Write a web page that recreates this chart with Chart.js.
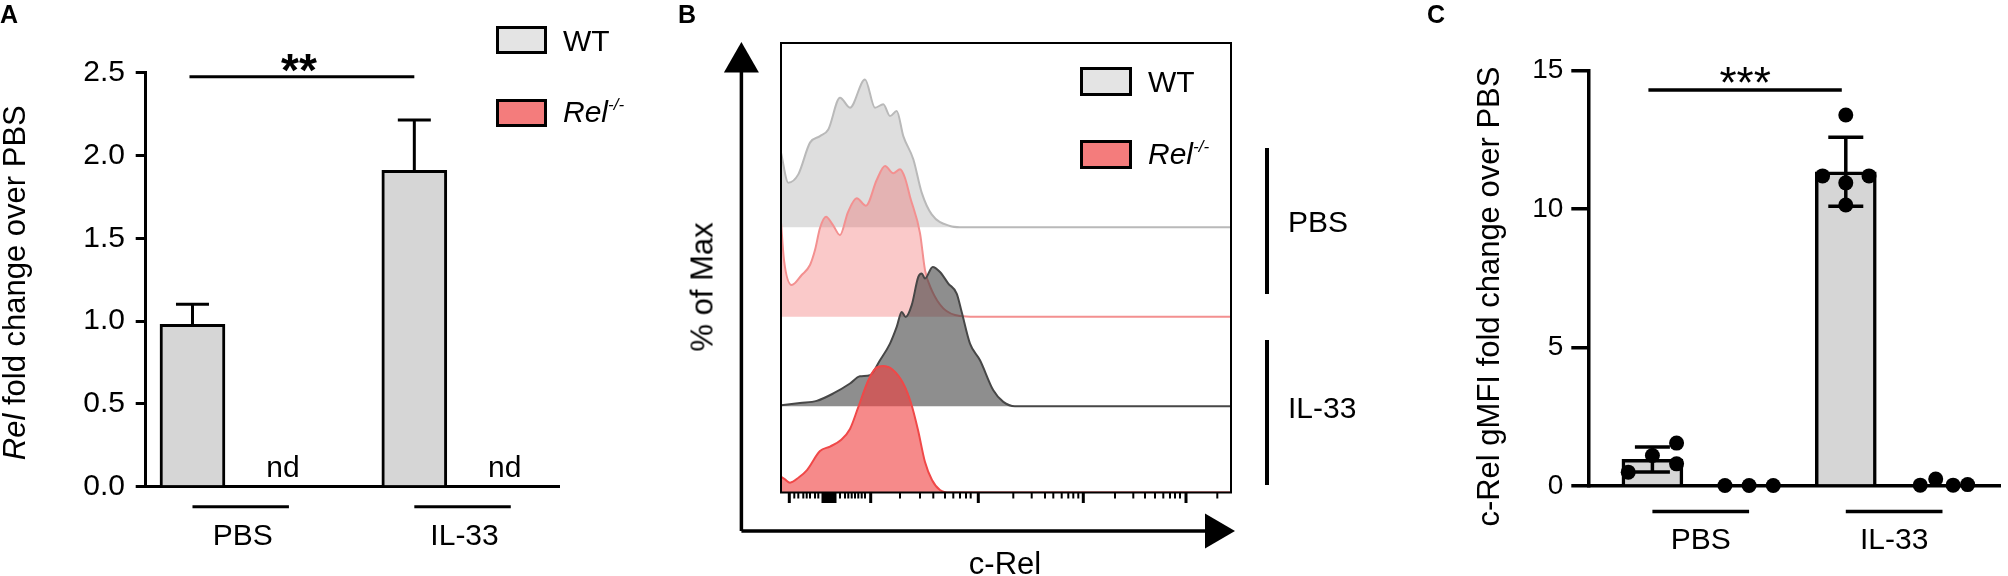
<!DOCTYPE html>
<html>
<head>
<meta charset="utf-8">
<script src="https://cdn.jsdelivr.net/npm/chart.js@4.4.1/dist/chart.umd.min.js"></script>
<style>
  body { margin: 0; width: 2008px; height: 576px; background: #fff; position: relative; overflow: hidden;
         font-family: 'Liberation Sans', Arial, Helvetica, sans-serif; color: #000; }
  canvas { position: absolute; top: 0; }
  .t { position: absolute; white-space: nowrap; font-size: 30px; line-height: 1; }
  .letter { position: absolute; top: 2px; font-weight: bold; font-size: 25px; line-height: 1; }
  .box { position: absolute; box-sizing: border-box; border: 3px solid #000; }
  .vline { position: absolute; width: 3.5px; background: #000; }
  sup { font-size: 17px; vertical-align: 12px; line-height: 0; }
</style>
</head>
<body>
<canvas id="chartA" width="660" height="576" style="left:0px"></canvas>
<canvas id="chartB" width="820" height="576" style="left:600px"></canvas>
<canvas id="chartC" width="588" height="576" style="left:1420px"></canvas>

<div class="letter" style="left:0px">A</div>
<div class="letter" style="left:678px">B</div>
<div class="letter" style="left:1427px">C</div>

<!-- legende A -->
<div class="box" style="left:496px; top:26px; width:51px; height:28px; background:#e4e4e4"></div>
<div class="t" style="left:563px; top:25.7px">WT</div>
<div class="box" style="left:496px; top:99px; width:51px; height:28px; background:#f47c7c"></div>
<div class="t" style="left:563px; top:97.3px"><i>Rel<sup>-/-</sup></i></div>

<!-- legende B -->
<div class="box" style="left:1080px; top:67px; width:52px; height:29px; background:#e4e4e4"></div>
<div class="t" style="left:1148px; top:67px">WT</div>
<div class="box" style="left:1080px; top:140px; width:52px; height:29px; background:#f47c7c"></div>
<div class="t" style="left:1148px; top:138.7px"><i>Rel<sup>-/-</sup></i></div>

<div class="vline" style="left:1265px; top:148px; height:146px"></div>
<div class="t" style="left:1288px; top:207.3px">PBS</div>
<div class="vline" style="left:1265px; top:340px; height:145px"></div>
<div class="t" style="left:1288px; top:393.1px">IL-33</div>

<div class="t" style="left:701.5px; top:286.5px; font-size:31px; transform:translate(-50%,-50%) rotate(-90deg)">% of Max</div>
<div class="t" style="left:1005px; top:547.8px; font-size:31px; transform:translateX(-50%)">c-Rel</div>

<script>
const FONT = "'Liberation Sans', Arial, Helvetica, sans-serif";

// Panel A : Rel mRNA (qPCR)
const groups = ['PBS', 'IL-33'];
const relWtMean = [0.98, 1.91];
const relWtSem = [0.122, 0.304];
const relKoLabel = ['nd', 'nd'];
const relTicks = [0, 0.5, 1.0, 1.5, 2.0, 2.5];

// Panel B : histogrammes c-Rel (x = canal, h = % of Max)
const wtPbsX = [0, 7.3, 17.3, 29, 39, 47.3, 59, 69, 84, 94, 102.3, 109, 115.7, 122.3, 132.3, 140.7, 150.7, 169, 179, 450];
const wtPbsH = [51.4, 30.7, 36.4, 58.3, 62.8, 67.4, 89.3, 82.4, 101.9, 82.4, 84.7, 76.6, 80.1, 62.8, 46.8, 23.8, 8.8, 0.8, 0, 0];
const koPbsX = [0, 3, 10.7, 20.7, 29, 34, 39, 45, 52, 59, 67, 75.7, 85, 95.7, 104, 112.3, 119, 124, 129, 139, 144, 150.7, 162.3, 179, 194, 450];
const koPbsH = [65.3, 39.1, 21.9, 28.8, 35.7, 46, 61.2, 69, 63.2, 56.3, 72.2, 81.7, 76.6, 94.3, 104, 98.9, 101.7, 95.7, 82.8, 57.7, 32.2, 18.4, 5.8, 0.5, 0, 0];
const wtIl33X = [0, 19, 35.7, 52.3, 69, 79, 89, 99, 109, 115.7, 120.7, 124.7, 130.7, 137.3, 140.7, 144, 151.7, 159, 167.3, 175.7, 180.7, 189, 199, 212.3, 222.3, 234, 450];
const wtIl33H = [0.7, 2.3, 3.7, 8.8, 15.7, 20.7, 21.4, 31.7, 43.2, 54.7, 65, 61.6, 69.7, 89.2, 91.5, 88.1, 96.1, 92.6, 84.6, 77.7, 65, 43.2, 31.7, 11, 3, 0, 0];
const koIl33X = [0, 4, 9, 18, 26, 39, 49, 60, 69, 77, 87, 94, 102, 112, 122, 130, 137, 144, 151, 159, 169, 450];
const koIl33H = [10.9, 9, 6.8, 10.5, 15.5, 28.6, 31.7, 36.2, 43.8, 58.3, 76.9, 85.2, 87.2, 84.5, 75.5, 61.7, 43.1, 21, 8.6, 1.7, 0, 0];
const cRelMajorTicks = [8.3, 89.7, 197.3, 302.3, 405];
const cRelMinorTicks = [13.3, 17.3, 22.3, 25.7, 29, 34, 37.3, 59, 64, 67.3, 70.7, 74, 77.3, 80.7, 84,
  119, 139, 152.3, 164, 172.3, 179, 185, 189.7, 232.3, 250.7, 264, 272.3, 280.7, 287.3, 292.3, 297.3,
  334, 352.3, 364, 374, 382.3, 389, 394, 399, 436.3];
const cRelZeroTicks = [42, 44.5, 47, 49.5, 52, 54];

// Panel C : c-Rel gMFI
const gmfiWtMean = [0.96, 11.35];
const gmfiWtSd = [0.45, 1.25];
const gmfiWtPbs = [0.5, 1.1, 1.55, 0.8];
const gmfiKoPbs = [0.02, 0.02, 0.02];
const gmfiWtIl33 = [13.4, 11.2, 11.2, 10.95, 10.15];
const gmfiKoIl33 = [0.03, 0.25, 0.03, 0.05];
const gmfiTicks = [0, 5, 10, 15];

function seg(ctx, x1, y1, x2, y2) {
    ctx.beginPath();
    ctx.moveTo(x1, y1);
    ctx.lineTo(x2, y2);
    ctx.stroke();
}

function rotatedTitle(ctx, parts, baseX, centerY, size) {
    ctx.save();
    ctx.translate(baseX, centerY);
    ctx.rotate(-Math.PI / 2);
    ctx.textBaseline = 'alphabetic';
    ctx.textAlign = 'left';
    ctx.fillStyle = '#000';
    const fonts = parts.map(p => (p.italic ? 'italic ' : '') + size + 'px ' + FONT);
    const widths = parts.map((p, i) => { ctx.font = fonts[i]; return ctx.measureText(p.text).width; });
    let x = -widths.reduce((a, b) => a + b, 0) / 2;
    parts.forEach((p, i) => {
        ctx.font = fonts[i];
        ctx.fillText(p.text, x, 0);
        x += widths[i];
    });
    ctx.restore();
}

function text(ctx, str, x, y, font) {
    ctx.font = font;
    ctx.textAlign = 'center';
    ctx.textBaseline = 'alphabetic';
    ctx.fillStyle = '#000';
    ctx.fillText(str, x, y);
}

document.addEventListener('DOMContentLoaded', function () {
    Chart.defaults.font.family = FONT;
    Chart.defaults.color = '#000';

    // ---------- A ----------
    const posA = (g, k) => g * 2.3 + k;

    const marksA = {
        id: 'marksA',
        afterDatasetsDraw(chart) {
            const { ctx, chartArea: ca, scales: { x, y } } = chart;
            ctx.save();
            ctx.strokeStyle = '#000';
            ctx.lineWidth = 3;
            groups.forEach((g, i) => {
                const cx = x.getPixelForValue(posA(i, 0));
                const yTop = y.getPixelForValue(relWtMean[i] + relWtSem[i]);
                seg(ctx, cx, y.getPixelForValue(relWtMean[i]), cx, yTop);
                seg(ctx, cx - 16.5, yTop, cx + 16.5, yTop);

                const kx = x.getPixelForValue(posA(i, 1));
                text(ctx, relKoLabel[i], kx - 6, ca.bottom - 9.5, '30px ' + FONT);

                seg(ctx, cx, ca.bottom + 20, kx, ca.bottom + 20);
                text(ctx, g, (cx + kx) / 2 + 2, ca.bottom + 58.3, '30px ' + FONT);
            });
            const sy = y.getPixelForValue(2.475);
            const x1 = x.getPixelForValue(posA(0, 0)) - 3;
            const x2 = x.getPixelForValue(posA(1, 0));
            seg(ctx, x1, sy, x2, sy);
            text(ctx, '**', (x1 + x2) / 2 - 3, 86, 'bold 46px ' + FONT);

            rotatedTitle(ctx, [{ text: 'Rel', italic: true }, { text: ' fold change over PBS' }],
                25, (ca.top + ca.bottom) / 2 + 3, 31);
            ctx.restore();
        }
    };

    new Chart(document.getElementById('chartA'), {
        type: 'bar',
        data: {
            datasets: [{
                label: 'WT',
                data: groups.map((g, i) => ({ x: posA(i, 0), y: relWtMean[i] })),
                backgroundColor: '#d6d6d6',
                borderColor: '#000',
                borderWidth: 3,
                barThickness: 65
            }]
        },
        options: {
            responsive: false,
            animation: false,
            layout: { padding: { left: 0, right: 101, top: 72.7, bottom: 0 } },
            scales: {
                x: {
                    type: 'linear', min: -0.485, max: 3.8, offset: false,
                    ticks: { display: false },
                    grid: { drawOnChartArea: false, drawTicks: false },
                    border: { color: '#000', width: 3 },
                    afterFit: s => { s.height = 89.3; }
                },
                y: {
                    min: 0, max: 2.5,
                    afterBuildTicks: s => { s.ticks = relTicks.map(v => ({ value: v })); },
                    ticks: { callback: v => v.toFixed(1), font: { size: 30 }, color: '#000', padding: 10.7 },
                    grid: { drawOnChartArea: false, tickLength: 10, lineWidth: 3, color: '#000' },
                    border: { color: '#000', width: 3 },
                    afterFit: s => { s.width = 145.7; }
                }
            },
            plugins: { legend: { display: false }, tooltip: { enabled: false } }
        },
        plugins: [marksA]
    });

    // ---------- B ----------
    const hist = (xs, hs, off) => xs.map((v, i) => ({ x: v, y: off + hs[i] }));
    const histSets = [
        { label: 'WT PBS', xs: wtPbsX, hs: wtPbsH, off: 183, fill: 'rgba(222,222,222,1)', line: '#b9b9b9', order: 3 },
        { label: 'Rel-/- PBS', xs: koPbsX, hs: koPbsH, off: 121.2, fill: 'rgba(240,90,90,0.33)', line: '#f39090', order: 2 },
        { label: 'WT IL-33', xs: wtIl33X, hs: wtIl33H, off: 59.5, fill: 'rgba(60,60,60,0.58)', line: '#474747', order: 1 },
        { label: 'Rel-/- IL-33', xs: koIl33X, hs: koIl33H, off: 0, fill: 'rgba(240,60,60,0.6)', line: '#f04848', order: 0 }
    ];

    const marksB = {
        id: 'marksB',
        afterDraw(chart) {
            const { ctx, chartArea: ca, scales: { x } } = chart;
            ctx.save();
            ctx.strokeStyle = '#000';
            ctx.fillStyle = '#000';
            ctx.lineWidth = 2;
            ctx.strokeRect(ca.left, ca.top, ca.right - ca.left, ca.bottom - ca.top);

            ctx.lineWidth = 2;
            cRelMinorTicks.forEach(v => seg(ctx, x.getPixelForValue(v), ca.bottom, x.getPixelForValue(v), ca.bottom + 6));
            ctx.lineWidth = 3;
            cRelMajorTicks.concat(cRelZeroTicks).forEach(v =>
                seg(ctx, x.getPixelForValue(v), ca.bottom, x.getPixelForValue(v), ca.bottom + 10.5));

            // fleches des axes
            const ax = ca.left - 39.6, ay = ca.bottom + 38.5;
            ctx.lineWidth = 3.5;
            seg(ctx, ax, ay, ax, ca.top + 29);
            seg(ctx, ax, ay, ca.right - 26, ay);
            ctx.beginPath();
            ctx.moveTo(ax, ca.top - 1);
            ctx.lineTo(ax - 17.5, ca.top + 29.4);
            ctx.lineTo(ax + 17.5, ca.top + 29.4);
            ctx.closePath();
            ctx.fill();
            ctx.beginPath();
            ctx.moveTo(ca.right + 4, ay);
            ctx.lineTo(ca.right - 26, ay - 17.5);
            ctx.lineTo(ca.right - 26, ay + 17.5);
            ctx.closePath();
            ctx.fill();
            ctx.restore();
        }
    };

    new Chart(document.getElementById('chartB'), {
        type: 'line',
        data: {
            datasets: histSets.map(h => ({
                label: h.label,
                data: hist(h.xs, h.hs, h.off),
                fill: { value: h.off },
                backgroundColor: h.fill,
                borderColor: h.line,
                borderWidth: 2,
                pointRadius: 0,
                cubicInterpolationMode: 'monotone',
                order: h.order
            }))
        },
        options: {
            responsive: false,
            animation: false,
            layout: { padding: { left: 181, right: 189, top: 43, bottom: 83.5 } },
            scales: {
                x: { type: 'linear', min: 0, max: 450, display: false },
                y: { min: 0, max: 310, display: false }
            },
            plugins: { legend: { display: false }, tooltip: { enabled: false } }
        },
        plugins: [marksB]
    });

    // ---------- C ----------
    const posC = (g, k) => g * 2 + k;
    const dots = [
        { vals: gmfiWtPbs, at: posC(0, 0), jit: [-0.25, 0, 0.25, 0.25] },
        { vals: gmfiKoPbs, at: posC(0, 1), jit: [-0.25, 0, 0.25] },
        { vals: gmfiWtIl33, at: posC(1, 0), jit: [0, -0.24, 0.24, 0, 0] },
        { vals: gmfiKoIl33, at: posC(1, 1), jit: [-0.23, -0.07, 0.11, 0.26] }
    ];

    const marksC = {
        id: 'marksC',
        afterDatasetsDraw(chart) {
            const { ctx, chartArea: ca, scales: { x, y } } = chart;
            ctx.save();
            ctx.strokeStyle = '#000';
            ctx.lineWidth = 3.5;
            groups.forEach((g, i) => {
                const cx = x.getPixelForValue(posC(i, 0));
                const yHi = y.getPixelForValue(gmfiWtMean[i] + gmfiWtSd[i]);
                const yLo = y.getPixelForValue(gmfiWtMean[i] - gmfiWtSd[i]);
                seg(ctx, cx, yLo, cx, yHi);
                seg(ctx, cx - 17.5, yHi, cx + 17.5, yHi);
                seg(ctx, cx - 17.5, yLo, cx + 17.5, yLo);

                const kx = x.getPixelForValue(posC(i, 1));
                seg(ctx, cx, ca.bottom + 25.4, kx, ca.bottom + 25.4);
                text(ctx, g, (cx + kx) / 2, ca.bottom + 62.7, '30px ' + FONT);
            });
            const sy = y.getPixelForValue(14.3);
            const x1 = x.getPixelForValue(posC(0, 0)) - 4;
            const x2 = x.getPixelForValue(posC(1, 0)) - 4;
            seg(ctx, x1, sy, x2, sy);
            text(ctx, '***', (x1 + x2) / 2, 97.5, '44px ' + FONT);

            rotatedTitle(ctx, [{ text: 'c-Rel gMFI fold change over PBS' }], 79, 296.6, 31);
            ctx.restore();
        }
    };

    new Chart(document.getElementById('chartC'), {
        type: 'bar',
        data: {
            datasets: [{
                type: 'bar',
                label: 'WT',
                data: groups.map((g, i) => ({ x: posC(i, 0), y: gmfiWtMean[i] })),
                backgroundColor: '#d6d6d6',
                borderColor: '#000',
                borderWidth: 3.5,
                barThickness: 61,
                order: 2
            }, {
                type: 'scatter',
                label: 'mice',
                data: dots.flatMap(d => d.vals.map((v, j) => ({ x: d.at + d.jit[j], y: v }))),
                backgroundColor: '#000',
                borderWidth: 0,
                pointRadius: 7.5,
                clip: false,
                order: 1
            }]
        },
        options: {
            responsive: false,
            animation: false,
            layout: { padding: { left: 0, right: 2, top: 70.7, bottom: 0 } },
            scales: {
                x: {
                    type: 'linear', min: -0.663, max: 3.6, offset: false,
                    ticks: { display: false },
                    grid: { drawOnChartArea: false, drawTicks: false },
                    border: { color: '#000', width: 3.5 },
                    afterFit: s => { s.height = 90; }
                },
                y: {
                    min: 0, max: 15,
                    afterBuildTicks: s => { s.ticks = gmfiTicks.map(v => ({ value: v })); },
                    ticks: { font: { size: 28 }, color: '#000', padding: 8 },
                    grid: { drawOnChartArea: false, tickLength: 17, lineWidth: 3.5, color: '#000' },
                    border: { color: '#000', width: 3.5 },
                    afterFit: s => { s.width = 168.3; }
                }
            },
            plugins: { legend: { display: false }, tooltip: { enabled: false } }
        },
        plugins: [marksC]
    });
});
</script>
</body>
</html>
